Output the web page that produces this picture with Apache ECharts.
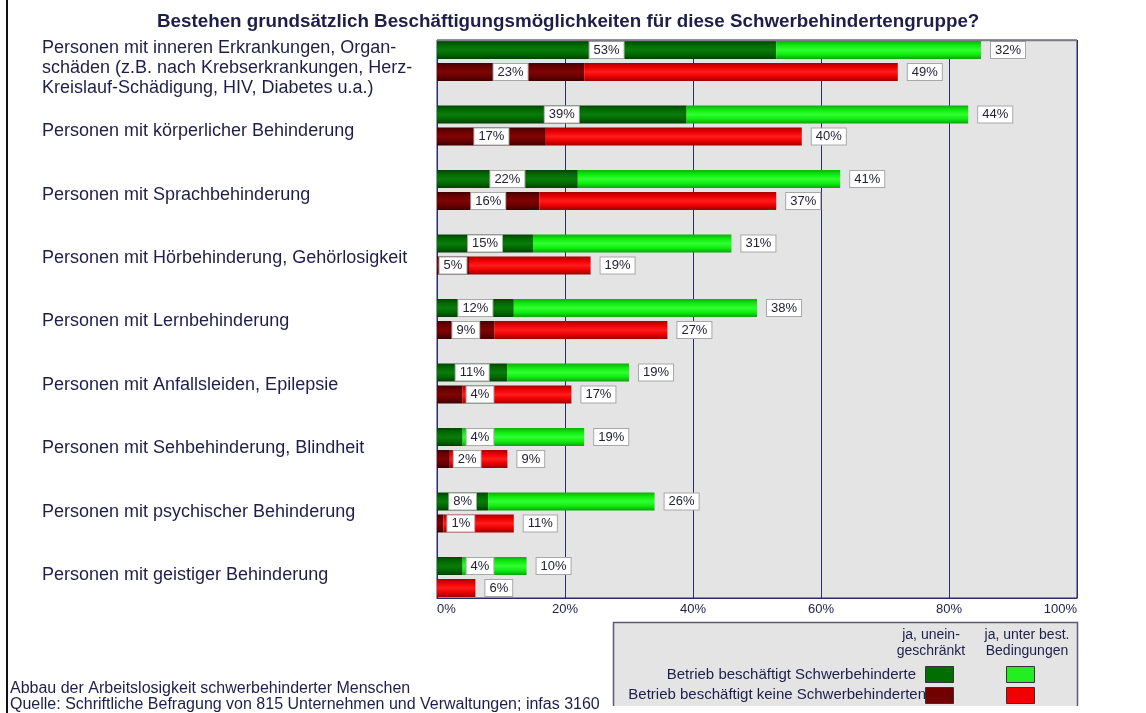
<!DOCTYPE html>
<html>
<head>
<meta charset="utf-8">
<script src="https://cdn.jsdelivr.net/npm/echarts@6/dist/echarts.min.js"></script>
<style>
html,body{margin:0;padding:0;background:#fff;}
#chart{width:1146px;height:713px;}
</style>
</head>
<body>
<div id="chart"></div>
<script>
// ---- data ----
const titleText = 'Bestehen grundsätzlich Beschäftigungsmöglichkeiten für diese Schwerbehindertengruppe?';
const categories = [
  'Personen mit inneren Erkrankungen, Organ-\nschäden (z.B. nach Krebserkrankungen, Herz-\nKreislauf-Schädigung, HIV, Diabetes u.a.)',
  'Personen mit körperlicher Behinderung',
  'Personen mit Sprachbehinderung',
  'Personen mit Hörbehinderung, Gehörlosigkeit',
  'Personen mit Lernbehinderung',
  'Personen mit Anfallsleiden, Epilepsie',
  'Personen mit Sehbehinderung, Blindheit',
  'Personen mit psychischer Behinderung',
  'Personen mit geistiger Behinderung'
];
// Betrieb beschäftigt Schwerbehinderte
const withUnrestricted = [53, 39, 22, 15, 12, 11, 4, 8, 4];
const withConditional  = [32, 44, 41, 31, 38, 19, 19, 26, 10];
// Betrieb beschäftigt keine Schwerbehinderten
const withoutUnrestricted = [23, 17, 16, 5, 9, 4, 2, 1, 0];
const withoutConditional  = [49, 40, 37, 19, 27, 17, 9, 11, 6];
const xTicks = [0, 20, 40, 60, 80, 100];
const legendColumns = ['ja, unein-\ngeschränkt', 'ja, unter best.\nBedingungen'];
const legendRows = ['Betrieb beschäftigt Schwerbehinderte', 'Betrieb beschäftigt keine Schwerbehinderten'];
const footerLines = ['Abbau der Arbeitslosigkeit schwerbehinderter Menschen',
  'Quelle: Schriftliche Befragung von 815 Unternehmen und Verwaltungen; infas 3160'];

// ---- styles ----
const FONT = '"Liberation Sans", Arial, sans-serif';
const NAVY = '#1e1e4a';
function grad(stops) {
  return new echarts.graphic.LinearGradient(0, 0, 0, 1,
    stops.map((c, i) => ({offset: i / (stops.length - 1), color: c})));
}
const colDarkGreen = grad(['#004400', '#006c00', '#0a7c0a', '#006800', '#003e00']);
const colLightGreen = grad(['#0cb00c', '#10ec10', '#30ff30', '#10ec10', '#0ca20c']);
const colDarkRed = grad(['#420000', '#6c0000', '#800404', '#680000', '#3a0000']);
const colRed = grad(['#a80000', '#ee0000', '#ff1c1c', '#ea0000', '#9c0000']);
const solid = {dg: '#006e00', lg: '#22ee22', dr: '#720000', r: '#f20000'};

const boxLabel = {
  backgroundColor: '#ffffff', borderColor: '#a8a8a8', borderWidth: 1,
  padding: [2, 4, 1, 4], fontSize: 13, color: '#222233', fontFamily: FONT,
  formatter: '{c}%'
};
function innerData(arr) {
  return arr.map(v => ({
    value: v,
    label: v > 0 ? (v < 5 ? {show: true, position: 'right', distance: 4} : {show: true, position: 'inside'}) : {show: false}
  }));
}
function outerData(arr) {
  return arr.map(v => ({value: v, label: {show: true, position: 'right', distance: 10}}));
}

const PL = 437, PW = 640;
const option = {
  animation: false,
  title: {
    text: titleText, left: 152, top: 7,
    textStyle: {fontSize: 18.8, fontWeight: 'bold', color: NAVY, fontFamily: FONT}
  },
  grid: [
    {left: PL, top: 40, width: PW, height: 558, show: true, backgroundColor: '#e4e4e4', borderColor: '#2c2c6a', borderWidth: 1},
    {left: PL, top: 28.75, width: PW, height: 580.5},
    {left: PL, top: 36.3, width: PW, height: 570.4}
  ],
  xAxis: [
    {gridIndex: 0, type: 'value', min: xTicks[0], max: xTicks[xTicks.length - 1], interval: xTicks[1] - xTicks[0],
     axisLine: {show: true, lineStyle: {color: '#2c2c6a'}}, axisTick: {show: false},
     axisLabel: {formatter: '{value}%', fontSize: 13, color: NAVY, fontFamily: FONT, margin: 5,
                 alignMinLabel: 'left', alignMaxLabel: 'right'},
     splitLine: {show: true, lineStyle: {color: '#2c2c6a', width: 1}}},
    {gridIndex: 1, type: 'value', min: 0, max: 100, show: false},
    {gridIndex: 2, type: 'value', min: 0, max: 100, show: false}
  ],
  yAxis: [
    {gridIndex: 0, type: 'value', show: false, splitLine: {show: false}},
    {gridIndex: 1, type: 'category', data: categories, inverse: true, show: false},
    {gridIndex: 2, type: 'category', data: categories, inverse: true,
     axisLine: {show: false}, axisTick: {show: false}, splitLine: {show: false},
     axisLabel: {interval: 0, align: 'left', margin: PL - 42, fontSize: 18, lineHeight: 20,
                 color: NAVY, fontFamily: FONT}}
  ],
  series: [
    {name: 'Betrieb beschäftigt Schwerbehinderte – ja, uneingeschränkt', type: 'bar', xAxisIndex: 1, yAxisIndex: 1,
     stack: 'with', barWidth: 18, barGap: '22%', itemStyle: {color: colDarkGreen},
     label: boxLabel, data: innerData(withUnrestricted)},
    {name: 'Betrieb beschäftigt Schwerbehinderte – ja, unter best. Bedingungen', type: 'bar', xAxisIndex: 1, yAxisIndex: 1,
     stack: 'with', barWidth: 18, barGap: '22%', itemStyle: {color: colLightGreen},
     label: boxLabel, data: outerData(withConditional)},
    {name: 'Betrieb beschäftigt keine Schwerbehinderten – ja, uneingeschränkt', type: 'bar', xAxisIndex: 1, yAxisIndex: 1,
     stack: 'without', barWidth: 18, barGap: '22%', itemStyle: {color: colDarkRed},
     label: boxLabel, data: innerData(withoutUnrestricted)},
    {name: 'Betrieb beschäftigt keine Schwerbehinderten – ja, unter best. Bedingungen', type: 'bar', xAxisIndex: 1, yAxisIndex: 1,
     stack: 'without', barWidth: 18, barGap: '22%', itemStyle: {color: colRed},
     label: boxLabel, data: outerData(withoutConditional)}
  ],
  graphic: [
    // left frame line
    {type: 'line', z: 100, shape: {x1: 7, y1: 0, x2: 7, y2: 713}, style: {stroke: '#111', lineWidth: 2}},
    // gray top border of plot
    {type: 'line', z: 100, shape: {x1: PL, y1: 40.5, x2: PL + PW, y2: 40.5}, style: {stroke: '#7c7c84', lineWidth: 1.5}},
    // legend box
    {type: 'rect', z: 100, shape: {x: 613, y: 622, width: 465, height: 84}, style: {fill: '#e4e4e4'}},
    {type: 'polyline', z: 101, shape: {points: [[613.5, 706], [613.5, 622.5], [1077.5, 622.5], [1077.5, 706]]},
     style: {stroke: '#5a5a70', lineWidth: 1.5, fill: null}},
    {type: 'text', z: 102, x: 931, y: 627, style: {text: legendColumns[0], fontSize: 14, lineHeight: 16, fill: NAVY, fontFamily: FONT, align: 'center'}},
    {type: 'text', z: 102, x: 1027, y: 627, style: {text: legendColumns[1], fontSize: 14, lineHeight: 16, fill: NAVY, fontFamily: FONT, align: 'center'}},
    {type: 'text', z: 102, x: 916, y: 675, style: {text: legendRows[0], fontSize: 15, fill: NAVY, fontFamily: FONT, align: 'right', verticalAlign: 'middle'}},
    {type: 'text', z: 102, x: 926, y: 695, style: {text: legendRows[1], fontSize: 15, fill: NAVY, fontFamily: FONT, align: 'right', verticalAlign: 'middle'}},
    {type: 'rect', z: 102, shape: {x: 925.5, y: 666.5, width: 28, height: 16}, style: {fill: solid.dg, stroke: '#333', lineWidth: 1}},
    {type: 'rect', z: 102, shape: {x: 1006.5, y: 666.5, width: 28, height: 16}, style: {fill: solid.lg, stroke: '#333', lineWidth: 1}},
    {type: 'rect', z: 102, shape: {x: 925.5, y: 687.5, width: 28, height: 16}, style: {fill: solid.dr, stroke: '#333', lineWidth: 1}},
    {type: 'rect', z: 102, shape: {x: 1006.5, y: 687.5, width: 28, height: 16}, style: {fill: solid.r, stroke: '#333', lineWidth: 1}},
    // footer
    {type: 'text', z: 102, x: 10, y: 681, style: {text: footerLines[0], fontSize: 16, fill: NAVY, fontFamily: FONT}},
    {type: 'text', z: 102, x: 10, y: 697, style: {text: footerLines[1], fontSize: 16, fill: NAVY, fontFamily: FONT}}
  ]
};
const chart = echarts.init(document.getElementById('chart'), null, {renderer: 'canvas'});
chart.setOption(option);
</script>
</body>
</html>
